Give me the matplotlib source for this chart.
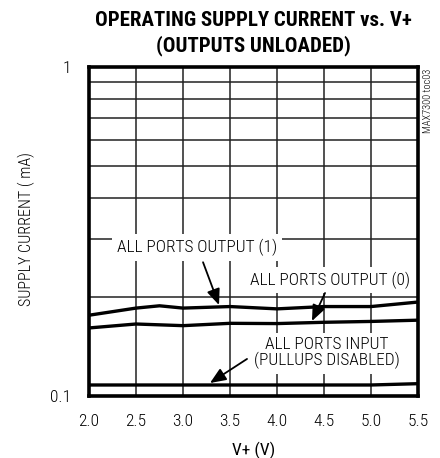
import matplotlib
matplotlib.use("Agg")
import matplotlib.pyplot as plt
from matplotlib.ticker import FixedLocator, NullFormatter, FixedFormatter

plt.rcParams['font.family'] = ['Roboto Condensed', 'DejaVu Sans']
plt.rcParams['font.weight'] = 'light'

# Data
v_out1 = [2.0, 2.5, 2.75, 3.0, 3.5, 4.0, 4.5, 5.0, 5.5]
i_out1 = [0.176, 0.185, 0.188, 0.185, 0.187, 0.184, 0.187, 0.187, 0.193]
v_out0 = [2.0, 2.5, 3.0, 3.5, 4.0, 4.5, 5.0, 5.5]
i_out0 = [0.161, 0.1655, 0.1636, 0.1663, 0.166, 0.1675, 0.1685, 0.170]
v_in = [2.0, 2.5, 3.0, 3.5, 4.0, 4.5, 5.0, 5.5]
i_in = [0.108, 0.108, 0.108, 0.108, 0.108, 0.108, 0.108, 0.109]

xticks = [2.0, 2.5, 3.0, 3.5, 4.0, 4.5, 5.0, 5.5]
xticklabels = ["2.0", "2.5", "3.0", "3.5", "4.0", "4.5", "5.0", "5.5"]
yminor = [0.2, 0.3, 0.4, 0.5, 0.6, 0.7, 0.8, 0.9]

fig = plt.figure(figsize=(4.4, 4.58), dpi=100)
ax = fig.add_axes([0.2023, 0.1354, 0.7477, 0.7183])
ax.set_yscale('log')
ax.set_xlim(2.0, 5.5)
ax.set_ylim(0.1, 1.0)

ax.xaxis.set_major_locator(FixedLocator(xticks))
ax.xaxis.set_major_formatter(FixedFormatter(xticklabels))
ax.yaxis.set_major_locator(FixedLocator([0.1, 1.0]))
ax.yaxis.set_major_formatter(FixedFormatter(["0.1", "1"]))
ax.yaxis.set_minor_locator(FixedLocator(yminor))
ax.yaxis.set_minor_formatter(NullFormatter())
ax.tick_params(axis='both', which='both', length=0, labelsize=12.5, pad=13)
ax.tick_params(axis='y', pad=13)

ax.grid(True, which='both', color='#222222', linewidth=1.1)
for s in ax.spines.values():
    s.set_linewidth(2.6)
    s.set_zorder(5)

for xs, ys in [(v_out1, i_out1), (v_out0, i_out0), (v_in, i_in)]:
    ax.plot(xs, ys, color='black', linewidth=2.4, zorder=4, solid_capstyle='butt')

bbox = dict(facecolor='white', edgecolor='none', pad=3.5)
arrow = dict(arrowstyle='-|>,head_length=0.6,head_width=0.25', color='black', lw=1.3,
             mutation_scale=16, shrinkA=0, shrinkB=0)

ax.text(3.154, 0.282, "ALL PORTS OUTPUT (1)", ha='center', va='center',
        fontsize=12.5, bbox=bbox, zorder=3)
ax.text(4.564, 0.2252, "ALL PORTS OUTPUT (0)", ha='center', va='center',
        fontsize=12.5, bbox=bbox, zorder=3)
ax.text(4.532, 0.1351, "ALL PORTS INPUT\n(PULLUPS DISABLED)", ha='center', va='center',
        fontsize=12.5, bbox=bbox, linespacing=1.05, zorder=3)

ax.annotate("", xy=(3.383, 0.189), xytext=(3.213, 0.255), arrowprops=arrow, zorder=6)
ax.annotate("", xy=(4.372, 0.169), xytext=(4.511, 0.2056), arrowprops=arrow, zorder=6)
ax.annotate("", xy=(3.287, 0.1095), xytext=(3.681, 0.1296), arrowprops=arrow, zorder=6)

ax.set_xlabel("V+ (V)", fontsize=12.5, labelpad=9)
fig.text(0.059, 0.5, "SUPPLY CURRENT ( mA)", rotation=90, ha='center', va='center',
         fontsize=11.5)

tfam = ['Roboto Condensed', 'DejaVu Sans']
fig.text(0.576, 0.955, "OPERATING SUPPLY CURRENT vs. V+", ha='center', va='center',
         fontsize=15, fontweight='black', family=tfam)
fig.text(0.576, 0.900, "(OUTPUTS UNLOADED)", ha='center', va='center',
         fontsize=15, fontweight='black', family=tfam)
fig.text(0.972, 0.78, "MAX7300 toc03", rotation=90, ha='center', va='center', fontsize=7.5)

fig.savefig("out.png", dpi=100)
